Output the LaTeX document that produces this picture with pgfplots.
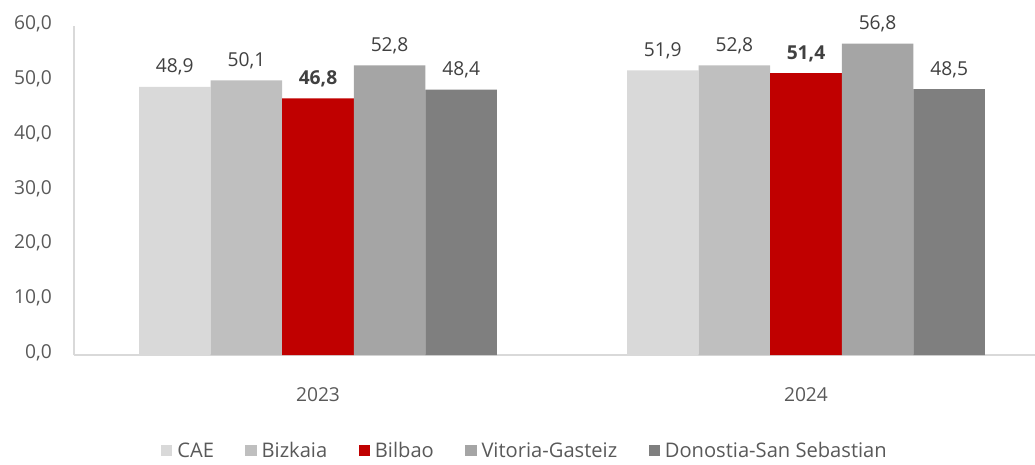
\documentclass[border=0pt]{standalone}
\usepackage{fontspec}
\setmainfont{Open Sans}
\usepackage{pgfplots}
\pgfplotsset{compat=1.18}

\definecolor{cae}{HTML}{D9D9D9}
\definecolor{bizkaia}{HTML}{BFBFBF}
\definecolor{bilbao}{HTML}{C00000}
\definecolor{vitoria}{HTML}{A5A5A5}
\definecolor{donostia}{HTML}{7F7F7F}
\definecolor{axisgray}{HTML}{D9D9D9}
\definecolor{ticktext}{HTML}{595959}
\definecolor{labeltext}{HTML}{404040}

\begin{document}
\begin{tikzpicture}
% 1px = 0.75pt; the picture is 1035 x 464 px
\path[use as bounding box] (-55.5pt,-81.75pt) rectangle (720.75pt,266.25pt);
\begin{axis}[
    scale only axis,
    width=721pt,
    height=246.75pt,
    at={(0,0)}, anchor=south west,
    font=\fontsize{14.4}{17}\selectfont,
    ybar=0pt,
    bar width=0.1467,
    xmin=-0.5, xmax=1.47,
    ymin=0, ymax=60,
    xtick={0,1},
    xticklabels={2023,2024},
    ytick={0,10,...,60},
    axis x line*=bottom,
    axis y line*=left,
    axis line style={draw=axisgray, line width=0.9pt, -},
    major tick length=0pt,
    tick style={draw=none},
    xticklabel style={anchor=base, inner sep=0pt, yshift=-34.5pt, text=ticktext},
    yticklabel style={anchor=mid east, inner sep=0pt, xshift=-16.5pt, text=ticktext},
    nodes near coords,
    nodes near coords style={anchor=base, inner sep=0pt, yshift=10.5pt, text=labeltext},
    legend columns=-1,
    legend style={draw=none, fill=none, at={(0.468,-0.292)}, anchor=center,
        font=\fontsize{15.1}{18}\selectfont,
        nodes={inner sep=0pt, text=ticktext},
        /tikz/every odd column/.append style={column sep=3.75pt},
        /tikz/every even column/.append style={column sep=23.5pt}},
    legend image code/.code={\fill[#1] (0pt,-3.6pt) rectangle (8.5pt,4.9pt);},
    /pgf/number format/.cd, fixed, fixed zerofill, precision=1, use comma, 1000 sep={}, assume math mode=true,
]
\addplot[fill=cae, draw=none] coordinates {(0,48.9) (1,51.9)};
\addlegendentry{CAE}
\addplot[fill=bizkaia, draw=none] coordinates {(0,50.1) (1,52.8)};
\addlegendentry{Bizkaia}
\addplot[fill=bilbao, draw=none, nodes near coords style={font=\fontsize{14.4}{17}\selectfont\bfseries}] coordinates {(0,46.8) (1,51.4)};
\addlegendentry{Bilbao}
\addplot[fill=vitoria, draw=none] coordinates {(0,52.8) (1,56.8)};
\addlegendentry{Vitoria-Gasteiz}
\addplot[fill=donostia, draw=none] coordinates {(0,48.4) (1,48.5)};
\addlegendentry{Donostia-San Sebastian}
\end{axis}
\end{tikzpicture}
\end{document}
